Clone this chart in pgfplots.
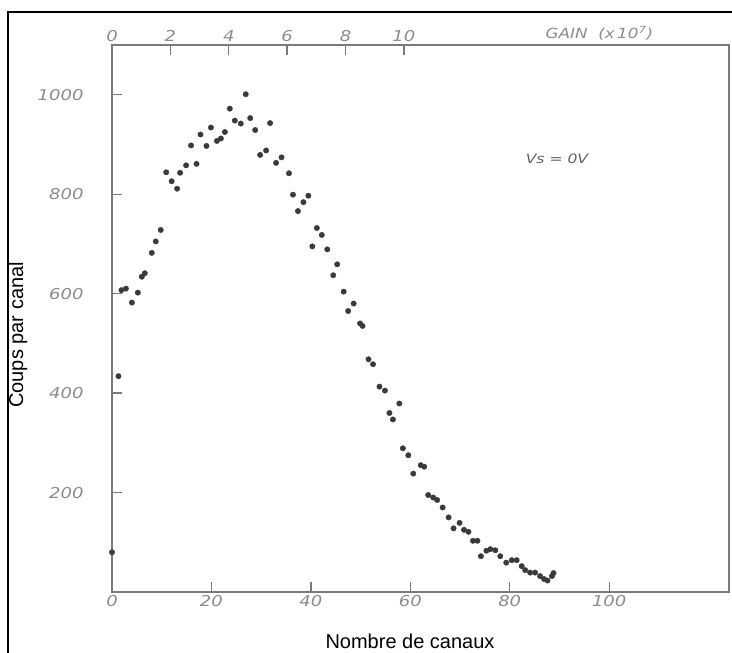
\documentclass[border=0pt]{standalone}
\usepackage{fontspec}
\setmainfont{Liberation Sans}
\newfontfamily\scanfont{DejaVu Sans}[FakeStretch=1.2]
\usepackage{pgfplots}
\pgfplotsset{compat=1.18}
\definecolor{axisgray}{HTML}{7A7A7A}
\definecolor{labgray}{HTML}{8C8C8C}
\definecolor{dotgray}{HTML}{3A3A3A}

\pgfplotstableread{
ch counts
0 80
1.3 434
1.9 607
2.8 610
4.0 582
5.2 602
6.0 634
6.6 641
8.0 682
8.8 705
9.8 728
10.9 844
12.0 826
13.1 811
13.7 843
14.9 858
15.9 898
17.0 861
17.8 920
19.0 897
19.9 934
21.1 907
21.9 912
22.7 925
23.7 972
24.7 948
25.9 942
26.9 1001
27.8 953
28.8 929
29.8 879
31.0 888
31.8 943
33.0 863
34.1 874
35.6 842
36.4 799
37.4 766
38.5 784
39.5 797
40.3 695
41.2 732
42.2 718
43.3 689
44.5 637
45.3 659
46.6 604
47.5 565
48.6 580
49.9 540
50.4 535
51.6 468
52.5 458
53.8 413
54.9 405
55.8 360
56.5 347
57.8 379
58.5 289
59.6 275
60.6 238
62.1 255
62.8 252
63.6 195
64.6 190
65.4 185
66.5 170
67.7 150
68.7 128
69.9 139
70.8 125
71.7 121
72.6 103
73.5 103
74.2 72
75.3 83
76.1 86
77.1 84
78.1 72
79.3 59
80.4 64
81.4 64
82.4 52
83.1 44
84.1 39
85.1 39
86.1 32
86.9 26
87.6 23
88.5 32
88.8 38
}\spectrum

\begin{document}
\begin{tikzpicture}
\useasboundingbox (0pt,0pt) rectangle (732pt,653pt);
% black frame of the scan (left and top edges)
\draw[line width=2pt] (8pt,-20pt) -- (8pt,641pt) -- (760pt,641pt);

\begin{axis}[
  at={(112pt,61pt)}, anchor=origin,
  scale only axis, width=617pt, height=547pt,
  xmin=0, xmax=124.1, ymin=0, ymax=1100,
  axis line style={axisgray, line width=1.4pt},
  xtick={0,20,...,100}, ytick={200,400,...,1000},
  tick align=inside, major tick length=10pt,
  tick style={axisgray, line width=1.3pt},
  xtick pos=bottom, ytick pos=left,
  /pgf/number format/assume math mode=true,
  /pgf/number format/1000 sep={},
  tick label style={font=\scanfont\itshape\fontsize{15}{15}\selectfont, text=labgray},
  yticklabel style={xshift=-25pt},
  xlabel={Nombre de canaux}, ylabel={Coups par canal},
  label style={font=\fontsize{20}{24}\selectfont},
  xlabel style={at={(axis description cs:0.483,-0.0896)}, anchor=center},
  ylabel style={at={(axis description cs:-0.1524,0.47)}, anchor=center},
  clip=false,
]
\addplot[only marks, mark=*, mark size=2.7pt, dotgray] table[x=ch, y=counts] {\spectrum};
\node[font=\scanfont\itshape\fontsize{13}{13}\selectfont, text=dotgray!80] at (axis cs:89.5,872) {Vs = 0V};
\end{axis}

\begin{axis}[
  at={(112pt,61pt)}, anchor=origin,
  scale only axis, width=617pt, height=547pt,
  xmin=0, xmax=21.14, ymin=0, ymax=1100,
  axis x line*=top, axis y line=none,
  axis line style={axisgray, line width=1.4pt},
  xtick={0,2,...,10},
  tick align=inside, major tick length=10pt,
  tick style={axisgray, line width=1.3pt},
  /pgf/number format/assume math mode=true,
  tick label style={font=\scanfont\itshape\fontsize{15}{15}\selectfont, text=labgray},
  clip=false,
]
\node[font=\scanfont\itshape\fontsize{14}{14}\selectfont, text=labgray] at (axis cs:16.7,1124) {GAIN\ \ (x\,10\textsuperscript{7})};
\end{axis}
\end{tikzpicture}
\end{document}
